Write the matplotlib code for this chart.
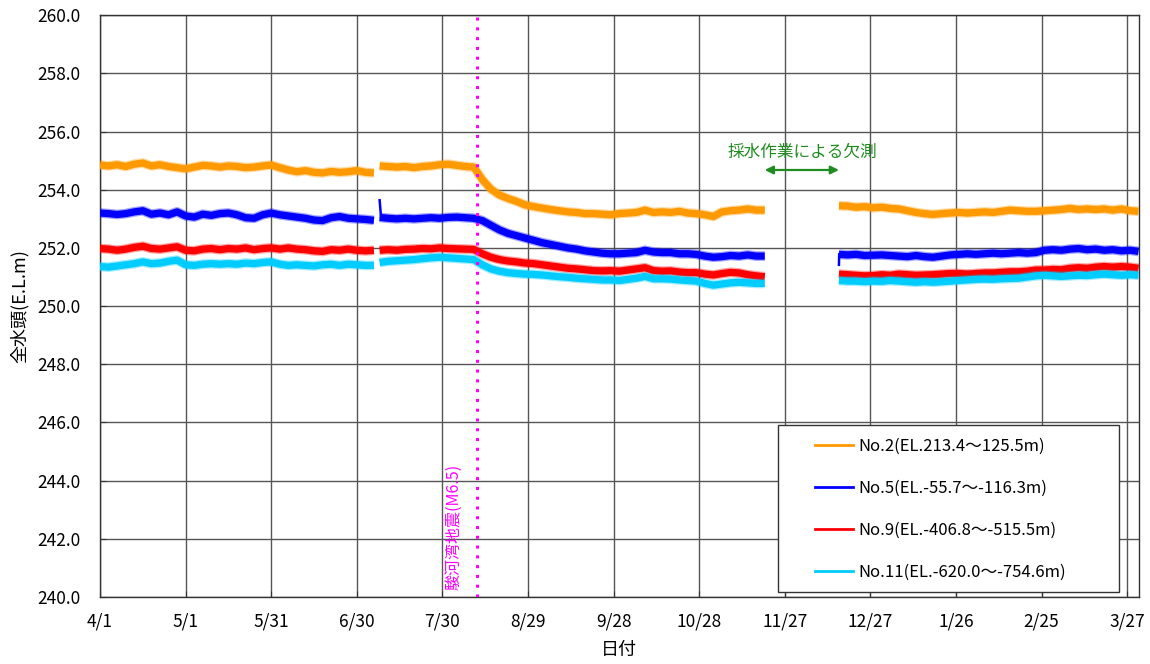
import matplotlib
matplotlib.use("Agg")
import matplotlib.pyplot as plt
import numpy as np
import pandas as pd
from matplotlib.lines import Line2D
from matplotlib.patches import Rectangle

plt.rcParams["font.family"] = ["Noto Sans CJK JP", "DejaVu Sans"]

# 3-day sampled readings, three observation periods (gap = sampling work)
seg_starts = ["2009-04-01", "2009-07-08", "2009-12-16"]

no2_a = [254.85, 254.82, 254.86, 254.80, 254.88, 254.92, 254.82, 254.86, 254.80, 254.76,
         254.72, 254.78, 254.84, 254.82, 254.78, 254.82, 254.80, 254.76, 254.78, 254.82,
         254.85, 254.76, 254.68, 254.62, 254.66, 254.60, 254.58, 254.63, 254.60, 254.62,
         254.66, 254.60, 254.58]
no2_b = [254.82, 254.80, 254.78, 254.80, 254.76, 254.80, 254.82, 254.86, 254.88, 254.84,
         254.80, 254.78, 254.35, 254.02, 253.82, 253.70, 253.60, 253.48, 253.42, 253.37,
         253.32, 253.28, 253.24, 253.22, 253.18, 253.18, 253.16, 253.14, 253.18, 253.20,
         253.22, 253.30, 253.22, 253.24, 253.22, 253.26, 253.20, 253.18, 253.14, 253.08,
         253.24, 253.28, 253.30, 253.34, 253.30, 253.30]
no2_c = [253.45, 253.44, 253.40, 253.42, 253.38, 253.40, 253.36, 253.34, 253.28, 253.22,
         253.18, 253.15, 253.18, 253.20, 253.22, 253.20, 253.22, 253.24, 253.22, 253.26,
         253.30, 253.28, 253.26, 253.26, 253.28, 253.30, 253.32, 253.36, 253.32, 253.34,
         253.32, 253.34, 253.30, 253.34, 253.28, 253.26]

no5_a = [253.20, 253.18, 253.15, 253.18, 253.24, 253.28, 253.16, 253.20, 253.14, 253.24,
         253.10, 253.06, 253.16, 253.12, 253.18, 253.20, 253.14, 253.04, 253.02, 253.14,
         253.20, 253.14, 253.10, 253.06, 253.02, 252.96, 252.94, 253.04, 253.08, 253.02,
         253.00, 252.98, 252.95]
no5_b = [253.05, 253.02, 253.00, 253.02, 253.00, 253.02, 253.04, 253.02, 253.05, 253.06,
         253.04, 253.02, 252.94, 252.78, 252.62, 252.50, 252.42, 252.34, 252.26, 252.18,
         252.12, 252.06, 252.00, 251.96, 251.90, 251.86, 251.82, 251.80, 251.80, 251.82,
         251.84, 251.92, 251.86, 251.84, 251.84, 251.80, 251.80, 251.78, 251.72, 251.68,
         251.70, 251.74, 251.72, 251.76, 251.72, 251.72]
no5_c = [251.78, 251.76, 251.78, 251.74, 251.75, 251.76, 251.74, 251.72, 251.70, 251.74,
         251.70, 251.68, 251.72, 251.76, 251.78, 251.80, 251.78, 251.80, 251.82, 251.80,
         251.82, 251.84, 251.82, 251.84, 251.92, 251.94, 251.92, 251.96, 251.98, 251.94,
         251.96, 251.92, 251.94, 251.90, 251.92, 251.88]
# short jumps in No.5 record
no5_spike_t = ["2009-07-08 00:00", "2009-07-08 12:00"]
no5_spike_v = [253.64, 253.05]
no5_step_t = ["2009-12-16 00:00", "2009-12-16 02:00"]
no5_step_v = [251.42, 251.78]

no9_a = [251.98, 251.96, 251.92, 251.96, 252.02, 252.06, 251.98, 251.96, 252.00, 252.04,
         251.92, 251.90, 251.96, 251.98, 251.94, 251.98, 251.96, 252.00, 251.94, 251.98,
         252.00, 251.96, 252.00, 251.96, 251.94, 251.90, 251.88, 251.94, 251.92, 251.96,
         251.92, 251.90, 251.92]
no9_b = [251.92, 251.94, 251.92, 251.95, 251.96, 251.98, 251.97, 252.00, 251.98, 251.97,
         251.96, 251.95, 251.80, 251.68, 251.60, 251.55, 251.52, 251.48, 251.46, 251.42,
         251.38, 251.34, 251.30, 251.28, 251.25, 251.22, 251.21, 251.22, 251.20, 251.24,
         251.28, 251.32, 251.22, 251.20, 251.21, 251.17, 251.15, 251.15, 251.10, 251.07,
         251.12, 251.16, 251.14, 251.08, 251.04, 251.01]
no9_c = [251.10, 251.08, 251.06, 251.04, 251.05, 251.08, 251.06, 251.10, 251.08, 251.06,
         251.07, 251.08, 251.10, 251.12, 251.12, 251.10, 251.12, 251.14, 251.14, 251.16,
         251.18, 251.18, 251.20, 251.24, 251.24, 251.26, 251.25, 251.30, 251.32, 251.30,
         251.34, 251.36, 251.34, 251.36, 251.34, 251.30]

no11_a = [251.36, 251.34, 251.38, 251.42, 251.46, 251.52, 251.46, 251.48, 251.54, 251.58,
          251.42, 251.40, 251.44, 251.46, 251.44, 251.46, 251.44, 251.48, 251.46, 251.50,
          251.52, 251.44, 251.40, 251.42, 251.40, 251.38, 251.42, 251.44, 251.40, 251.44,
          251.42, 251.40, 251.40]
no11_b = [251.50, 251.54, 251.56, 251.58, 251.60, 251.63, 251.66, 251.68, 251.66, 251.64,
          251.62, 251.60, 251.42, 251.28, 251.20, 251.15, 251.12, 251.10, 251.09, 251.07,
          251.04, 251.01, 250.99, 250.96, 250.94, 250.92, 250.90, 250.90, 250.88, 250.92,
          250.96, 251.02, 250.94, 250.94, 250.93, 250.90, 250.88, 250.86, 250.78, 250.72,
          250.76, 250.80, 250.82, 250.80, 250.78, 250.78]
no11_c = [250.88, 250.86, 250.86, 250.84, 250.86, 250.85, 250.88, 250.86, 250.84, 250.82,
          250.84, 250.82, 250.84, 250.86, 250.88, 250.90, 250.92, 250.93, 250.92, 250.94,
          250.95, 250.96, 251.00, 251.04, 251.06, 251.04, 251.02, 251.04, 251.06, 251.05,
          251.08, 251.10, 251.08, 251.06, 251.08, 251.06]

labels = ["No.2(EL.213.4～125.5m)", "No.5(EL.-55.7～-116.3m)",
          "No.9(EL.-406.8～-515.5m)", "No.11(EL.-620.0～-754.6m)"]
colors = ["#FF9900", "#0000FF", "#FF0000", "#00CCFF"]
quake_date = pd.Timestamp("2009-08-11")
gap_start, gap_end = pd.Timestamp("2009-11-20"), pd.Timestamp("2009-12-16")


def join_segments(parts):
    xs, ys = [], []
    for start, vals in zip(seg_starts, parts):
        t = pd.date_range(start, periods=len(vals), freq="3D")
        xs.extend(list(t) + [t[-1] + pd.Timedelta(hours=12)])
        ys.extend(list(vals) + [np.nan])
    return xs, ys


series = [(no2_a, no2_b, no2_c), (no5_a, no5_b, no5_c),
          (no9_a, no9_b, no9_c), (no11_a, no11_b, no11_c)]

fig = plt.figure(figsize=(11.5, 6.64), dpi=100)
ax = fig.add_axes([0.087, 0.101, 0.903, 0.876])

for parts, c in zip(series, colors):
    x, y = join_segments(parts)
    ax.plot(x, y, color=c, lw=7.0, alpha=0.35, solid_capstyle="butt", zorder=3)
    ax.plot(x, y, color=c, lw=5.2, solid_capstyle="butt", zorder=3)
ax.plot(pd.to_datetime(no5_spike_t), no5_spike_v, color=colors[1], lw=1.8, zorder=3)
ax.plot(pd.to_datetime(no5_step_t), no5_step_v, color=colors[1], lw=1.8, zorder=3)

ax.axvline(quake_date, color="#FF00FF", ls=(0, (1, 2.2)), lw=2.2, zorder=4)
ax.text(quake_date - pd.Timedelta(days=8), 240.25, "駿河湾地震(M6.5)", rotation=90,
        color="#FF00FF", fontsize=11.5, ha="center", va="bottom", zorder=4)

ax.annotate("", xy=(gap_start, 254.68), xytext=(gap_end, 254.68),
            arrowprops=dict(arrowstyle="<|-|>", color="#1E8C1E", lw=1.6,
                            mutation_scale=12, shrinkA=0, shrinkB=0))
ax.text(gap_start + (gap_end - gap_start) / 2, 255.3, "採水作業による欠測",
        color="#1E8C1E", fontsize=12, ha="center", va="center")

ticks = pd.date_range("2009-04-01", periods=13, freq="30D")
ax.set_xticks(ticks)
ax.set_xticklabels([f"{d.month}/{d.day}" for d in ticks], fontsize=12.5)
ax.set_xlim(pd.Timestamp("2009-04-01"), pd.Timestamp("2010-03-31"))
ax.set_ylim(240, 260)
ax.set_yticks(np.arange(240, 260.1, 2))
ax.set_yticklabels([f"{v:.1f}" for v in np.arange(240, 260.1, 2)], fontsize=12.5)
ax.tick_params(axis="both", direction="in", length=4, color="#333333")
ax.tick_params(axis="x", pad=11)
ax.tick_params(axis="y", pad=14)
ax.grid(True, color="#555555", lw=1.0)
ax.set_axisbelow(True)
for s in ax.spines.values():
    s.set_color("#333333")
    s.set_linewidth(1.0)

ax.set_xlabel("日付", fontsize=13, labelpad=8)
ax.set_ylabel("全水頭(E.L.m)", fontsize=13, labelpad=6)

ax.add_patch(Rectangle((0.653, 0.009), 0.328, 0.287, transform=ax.transAxes,
                       facecolor="white", edgecolor="#333333", lw=1.0, zorder=5))
handles = [Line2D([], [], color=c, lw=2) for c in colors]
leg = ax.legend(handles, labels, loc="upper left", bbox_to_anchor=(0.677, 0.293),
                frameon=False, fontsize=12, handlelength=2.3, handletextpad=0.3,
                labelspacing=1.5, borderaxespad=0.3)
leg.set_zorder(6)

fig.savefig("out.png", dpi=100)
plt.close(fig)
